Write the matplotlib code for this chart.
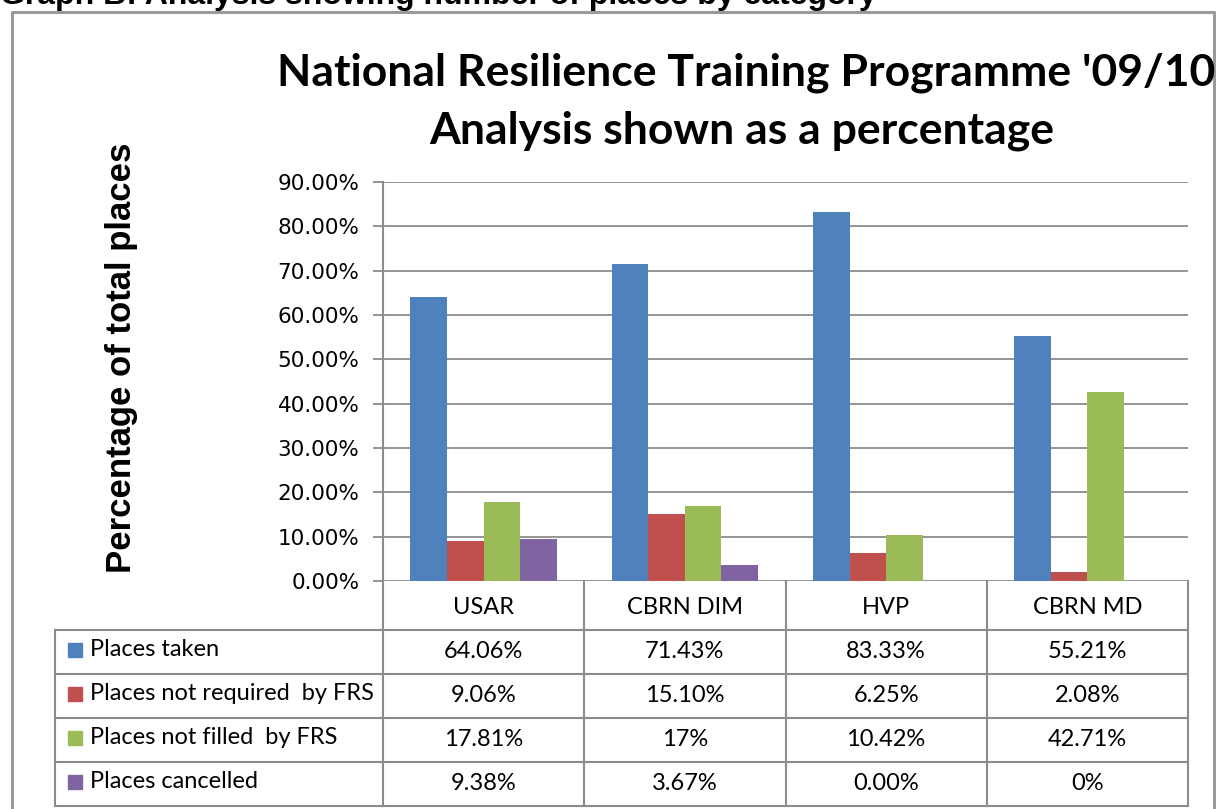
"""Resilience training programme chart: grouped bars with Excel-style data table."""
import matplotlib
matplotlib.use('Agg')
import matplotlib.pyplot as plt
from matplotlib.patches import Rectangle

# ── Data ──────────────────────────────────────────────────────────────────────
categories = ['USAR', 'CBRN DIM', 'HVP', 'CBRN MD']
series_names = ['Places taken', 'Places not required  by FRS',
                'Places not filled  by FRS', 'Places cancelled']
taken        = [64.06, 71.43, 83.33, 55.21]
not_required = [9.06, 15.10, 6.25, 2.08]
not_filled   = [17.81, 17.00, 10.42, 42.71]
cancelled    = [9.38, 3.67, 0.00, 0.00]
table_text = [
    ['64.06%', '71.43%', '83.33%', '55.21%'],
    ['9.06%', '15.10%', '6.25%', '2.08%'],
    ['17.81%', '17%', '10.42%', '42.71%'],
    ['9.38%', '3.67%', '0.00%', '0%'],
]
y_ticks = [0, 10, 20, 30, 40, 50, 60, 70, 80, 90]
colors = ['#4F81BD', '#C0504D', '#9BBB59', '#8064A2']

W, H = 1221, 809
GRID = '#8c8c8c'
SANS = ['Lato', 'DejaVu Sans']

fig = plt.figure(figsize=(W / 100, H / 100), dpi=100)

# overlay in pixel coordinates (y down) for frame, table and titles
ov = fig.add_axes([0, 0, 1, 1], zorder=0)
ov.set_xlim(0, W); ov.set_ylim(H, 0); ov.axis('off')

# ── Plot area ─────────────────────────────────────────────────────────────────
px0, px1, py_top, py_bot = 383, 1188, 182, 581
ax = fig.add_axes([px0 / W, (H - py_bot) / H, (px1 - px0) / W, (py_bot - py_top) / H],
                  zorder=2)
ax.patch.set_alpha(0)
bw = 1 / 5.5
for i, vals in enumerate([taken, not_required, not_filled, cancelled]):
    xs = [c + (i - 1.5) * bw for c in range(len(categories))]
    ax.bar(xs, vals, width=bw, color=colors[i], zorder=3)
ax.set_xlim(-0.5, len(categories) - 0.5)
ax.set_ylim(0, 90)
ax.set_yticks(y_ticks)
ax.set_yticklabels([f'{v:.2f}%' for v in y_ticks], fontsize=15.5, family='DejaVu Sans')
ax.set_xticks([])
ax.yaxis.grid(True, color=GRID, lw=1.3, zorder=0)
ax.tick_params(axis='y', length=7, width=1.3, color=GRID, pad=10)
for s in ['top', 'right', 'bottom']:
    ax.spines[s].set_visible(False)
ax.spines['left'].set_color(GRID)
ax.spines['left'].set_linewidth(1.5)

# ── Data table ────────────────────────────────────────────────────────────────
tx0 = 55
col_edges = [px0 + (px1 - px0) * k / len(categories) for k in range(len(categories) + 1)]
row_edges = [630, 674, 718, 762, 806]
lw = 1.5
for xe in col_edges:
    ov.plot([xe, xe], [py_bot, row_edges[-1]], color=GRID, lw=lw)
ov.plot([tx0, tx0], [row_edges[0], row_edges[-1]], color=GRID, lw=lw)
for ye in row_edges:
    ov.plot([tx0, px1], [ye, ye], color=GRID, lw=lw)
for k, cat in enumerate(categories):
    xc = (col_edges[k] + col_edges[k + 1]) / 2
    ov.text(xc, (py_bot + row_edges[0]) / 2 + 2, cat, ha='center', va='center',
            fontsize=17, family=SANS)
for r, name in enumerate(series_names):
    yc = (row_edges[r] + row_edges[r + 1]) / 2
    ov.add_patch(Rectangle((68, yc - 7 - 2), 14, 14, color=colors[r]))
    ov.text(90, yc - 2, name, ha='left', va='center', fontsize=17, family=SANS)
    for k in range(len(categories)):
        xc = (col_edges[k] + col_edges[k + 1]) / 2
        ov.text(xc, yc, table_text[r][k], ha='center', va='center',
                fontsize=17, family=SANS)

# ── Frame and titles ──────────────────────────────────────────────────────────
ov.plot([12, 12, 1214, 1214], [H + 5, 12, 12, H + 5], color='#9a9a9a', lw=2.2)
ov.text(0, 4, 'Graph B: Analysis showing number of places by category', ha='left',
        va='baseline', fontsize=23, fontweight='bold', family='Liberation Sans')
ov.text(746, 85, "National Resilience Training Programme '09/10", ha='center',
        va='baseline', fontsize=32, fontweight='bold', family=SANS)
ov.text(742, 143, 'Analysis shown as a percentage', ha='center',
        va='baseline', fontsize=32, fontweight='bold', family=SANS)
ov.text(122, 358, 'Percentage of total places', ha='center', va='center',
        rotation=90, fontsize=25, fontweight='bold', family='Liberation Sans')

fig.savefig('out.png', dpi=100)
